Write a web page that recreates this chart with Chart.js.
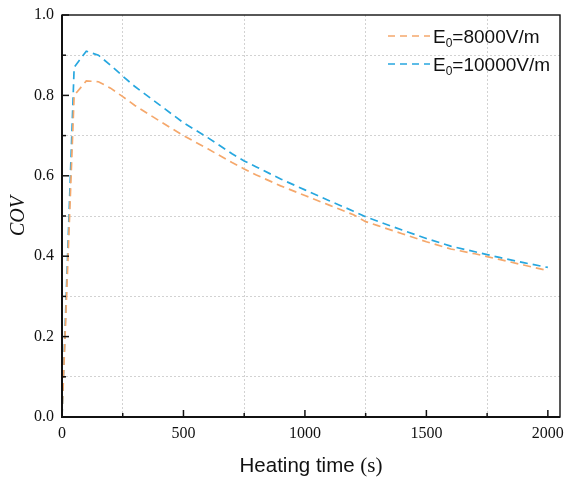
<!DOCTYPE html>
<html>
<head>
<meta charset="utf-8">
<script src="https://cdn.jsdelivr.net/npm/chart.js@4"></script>
<style>
  html, body { margin: 0; padding: 0; background: #fff; }
  #wrap { width: 565px; height: 479px; }
</style>
</head>
<body>
<div id="wrap"><canvas id="chart" width="565" height="479"></canvas></div>
<script>
// heating time (s) and COV
const times = [0, 50, 100, 150, 200, 250, 300, 400, 500, 600, 700, 750, 800, 900, 1000,
  1100, 1200, 1250, 1300, 1400, 1500, 1600, 1700, 1750, 1800, 1900, 2000];
const cov8000 = [0, 0.80, 0.836, 0.834, 0.818, 0.797, 0.775, 0.737, 0.700, 0.667, 0.633, 0.617,
  0.602, 0.575, 0.551, 0.527, 0.503, 0.486, 0.476, 0.456, 0.436, 0.418, 0.406, 0.399, 0.392, 0.378, 0.364];
const cov10000 = [0, 0.87, 0.910, 0.900, 0.875, 0.848, 0.822, 0.777, 0.732, 0.695, 0.655, 0.637,
  0.622, 0.592, 0.565, 0.538, 0.512, 0.498, 0.487, 0.465, 0.444, 0.425, 0.411, 0.404, 0.397, 0.384, 0.372];
const seriesNames = ["8000V/m", "10000V/m"];
const colors = ["#f5a86c", "#27a7df"];

// major ticks carry labels, minor ones carry the dotted grid
const xTicks = [0, 250, 500, 750, 1000, 1250, 1500, 1750, 2000];
const yTicks = [0, 0.1, 0.2, 0.3, 0.4, 0.5, 0.6, 0.7, 0.8, 0.9, 1.0];

const serif = "'Liberation Serif', 'Times New Roman', serif";
const sans = "'Liberation Sans', Arial, sans-serif";

const pts = (vals) => times.map((t, i) => ({ x: t, y: vals[i] }));
const isMajorX = (v) => v % 500 === 0;
const isMajorY = (v) => Math.round(v * 10) % 2 === 0;

// frame, inward ticks, axis titles and the legend with subscripts
const decorations = {
  id: "decorations",
  afterDraw(chart) {
    const ctx = chart.ctx;
    const a = chart.chartArea;
    const xs = chart.scales.x;
    const ys = chart.scales.y;
    ctx.save();
    ctx.strokeStyle = "#111";
    ctx.lineWidth = 1.5;
    for (const v of xTicks) {
      const px = xs.getPixelForValue(v);
      const len = isMajorX(v) ? 7 : 4;
      ctx.beginPath();
      ctx.moveTo(px, a.bottom);
      ctx.lineTo(px, a.bottom - len);
      ctx.stroke();
    }
    for (const v of yTicks) {
      const py = ys.getPixelForValue(v);
      const len = isMajorY(v) ? 7 : 4;
      ctx.beginPath();
      ctx.moveTo(a.left, py);
      ctx.lineTo(a.left + len, py);
      ctx.stroke();
    }
    ctx.lineWidth = 1.4;
    ctx.strokeRect(a.left, a.top, a.right - a.left, a.bottom - a.top);
    ctx.lineWidth = 2;
    ctx.beginPath();
    ctx.moveTo(a.left, a.top);
    ctx.lineTo(a.left, a.bottom);
    ctx.lineTo(a.right, a.bottom);
    ctx.stroke();

    // x title, "(s)" in serif
    ctx.fillStyle = "#111";
    ctx.textBaseline = "alphabetic";
    ctx.textAlign = "left";
    const part1 = "Heating time ";
    const part2 = "(s)";
    ctx.font = "20.5px " + sans;
    const w1 = ctx.measureText(part1).width;
    ctx.font = "21px " + serif;
    const w2 = ctx.measureText(part2).width;
    const x0 = (a.left + a.right) / 2 - (w1 + w2) / 2;
    ctx.font = "20.5px " + sans;
    ctx.fillText(part1, x0, 472);
    ctx.font = "21px " + serif;
    ctx.fillText(part2, x0 + w1, 472);

    // y title
    ctx.save();
    ctx.translate(24, (a.top + a.bottom) / 2);
    ctx.rotate(-Math.PI / 2);
    ctx.textAlign = "center";
    ctx.font = "italic 20px " + serif;
    ctx.fillText("COV", 0, 0);
    ctx.restore();

    // legend
    const rows = [36, 64];
    rows.forEach((y, i) => {
      ctx.strokeStyle = colors[i];
      ctx.lineWidth = 1.6;
      ctx.setLineDash([7, 5]);
      ctx.beginPath();
      ctx.moveTo(388, y);
      ctx.lineTo(430, y);
      ctx.stroke();
      ctx.setLineDash([]);
      ctx.fillStyle = "#111";
      ctx.textAlign = "left";
      ctx.font = "19px " + sans;
      let tx = 433;
      ctx.fillText("E", tx, y + 7);
      tx += ctx.measureText("E").width;
      ctx.font = "12px " + sans;
      ctx.fillText("0", tx, y + 11);
      tx += ctx.measureText("0").width;
      ctx.font = "19px " + sans;
      ctx.fillText("=" + seriesNames[i], tx, y + 7);
    });
    ctx.restore();
  },
};

new Chart(document.getElementById("chart"), {
  type: "line",
  data: {
    datasets: [
      { label: "E0=" + seriesNames[0], data: pts(cov8000) },
      { label: "E0=" + seriesNames[1], data: pts(cov10000) },
    ].map((d, i) => ({
      ...d,
      borderColor: colors[i],
      backgroundColor: colors[i],
      borderWidth: 1.7,
      borderDash: [8, 5],
      pointRadius: 0,
      tension: 0,
      fill: false,
    })),
  },
  options: {
    responsive: false,
    animation: false,
    layout: { padding: { top: 15, right: 5, left: 0, bottom: 0 } },
    plugins: { legend: { display: false }, tooltip: { enabled: false } },
    scales: {
      x: {
        type: "linear",
        min: 0,
        max: 2050,
        afterFit: (s) => {
          s.height = 62;
          s.paddingLeft = 0;
          s.paddingRight = 0;
        },
        afterBuildTicks: (s) => { s.ticks = xTicks.map((v) => ({ value: v })); },
        ticks: {
          autoSkip: false,
          maxRotation: 0,
          padding: 7,
          color: "#111",
          font: { family: serif, size: 16 },
          callback: (v) => (isMajorX(v) ? String(v) : ""),
        },
        grid: {
          drawTicks: false,
          lineWidth: 1,
          color: (c) => (c.tick && !isMajorX(c.tick.value) ? "#d2d2d2" : "rgba(0,0,0,0)"),
        },
        border: { display: false, dash: [2, 2] },
      },
      y: {
        min: 0,
        max: 1,
        afterFit: (s) => {
          s.width = 62;
          s.paddingTop = 0;
          s.paddingBottom = 0;
        },
        afterBuildTicks: (s) => { s.ticks = yTicks.map((v) => ({ value: v })); },
        ticks: {
          autoSkip: false,
          padding: 8,
          color: "#111",
          font: { family: serif, size: 16 },
          callback: (v) => (isMajorY(v) ? v.toFixed(1) : ""),
        },
        grid: {
          drawTicks: false,
          lineWidth: 1,
          color: (c) => (c.tick && !isMajorY(c.tick.value) ? "#d2d2d2" : "rgba(0,0,0,0)"),
        },
        border: { display: false, dash: [2, 2] },
      },
    },
  },
  plugins: [decorations],
});
</script>
</body>
</html>
